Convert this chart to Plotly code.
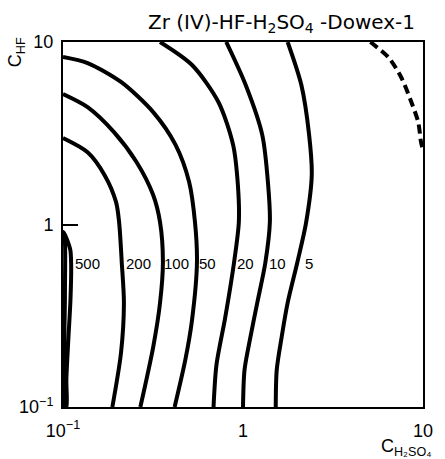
import math
import plotly.graph_objects as go

# Contour curves of distribution coefficient: C_H2SO4 (x) vs C_HF (y)
c500_x = [0.1006, 0.1044, 0.1098, 0.111, 0.110, 0.107, 0.1044, 0.1044, 0.1025, 0.1025, 0.1025, 0.1006]
c500_y = [0.910, 0.843, 0.725, 0.600, 0.386, 0.233, 0.141, 0.1, 0.1, 0.40, 0.80, 0.910]

c200_x = [0.1, 0.137, 0.170, 0.197, 0.205, 0.212, 0.218, 0.210, 0.188]
c200_y = [2.98, 2.49, 1.87, 1.33, 1.03, 0.623, 0.372, 0.198, 0.1]

c100_x = [0.1, 0.137, 0.192, 0.256, 0.317, 0.346, 0.359, 0.346, 0.317, 0.269]
c100_y = [5.19, 4.40, 3.21, 2.20, 1.45, 1.03, 0.623, 0.372, 0.213, 0.1]

c50_x = [0.1, 0.137, 0.210, 0.317, 0.422, 0.502, 0.541, 0.555, 0.521, 0.478, 0.417]
c50_y = [8.28, 7.67, 6.04, 4.13, 2.73, 1.71, 1.03, 0.623, 0.300, 0.181, 0.1]

c20_x = [0.346, 0.521, 0.730, 0.881, 0.937, 0.948, 0.891, 0.796, 0.712, 0.686]
c20_y = [10, 7.48, 4.69, 2.73, 1.64, 1.03, 0.615, 0.308, 0.170, 0.1]

c10_x = [0.807, 1.035, 1.28, 1.38, 1.41, 1.33, 1.20, 1.10, 1.02, 1.0]
c10_y = [10, 5.81, 3.09, 1.64, 1.03, 0.615, 0.372, 0.242, 0.160, 0.1]

c5_x = [1.77, 2.11, 2.33, 2.41, 2.24, 2.00, 1.77, 1.64, 1.54, 1.52]
c5_y = [10, 5.81, 3.09, 1.87, 1.02, 0.615, 0.372, 0.242, 0.160, 0.1]

dash_x = [5.10, 6.47, 7.60, 8.61, 9.40, 9.75, 10.0]
dash_y = [10, 8.17, 6.35, 4.69, 3.65, 2.83, 2.56]

label_text = ["500", "200", "100", "50", "20", "10", "5"]
label_x = [0.1366, 0.263, 0.427, 0.637, 1.035, 1.56, 2.33]
label_y = [0.615] * 7

tick_vals = [0.1, 1, 10]
tick_text = ["10<sup>−1</sup>", "1", "10"]

FONT = "Liberation Sans, Arial, sans-serif"
TITLE_FONT = "DejaVu Sans, sans-serif"

fig = go.Figure()
solid = [(c500_x, c500_y), (c200_x, c200_y), (c100_x, c100_y), (c50_x, c50_y),
         (c20_x, c20_y), (c10_x, c10_y), (c5_x, c5_y)]
for xs, ys in solid:
    fig.add_trace(go.Scatter(x=xs, y=ys, mode="lines",
                             line=dict(color="black", width=4, shape="spline", smoothing=0.8),
                             hoverinfo="skip", showlegend=False))
fig.add_trace(go.Scatter(x=dash_x, y=dash_y, mode="lines",
                         line=dict(color="black", width=4, dash="9px,5px", shape="spline", smoothing=0.8),
                         hoverinfo="skip", showlegend=False))

for t, x, y in zip(label_text, label_x, label_y):
    fig.add_annotation(x=math.log10(x), y=math.log10(y), xref="x", yref="y",
                       text=t, showarrow=False, xanchor="center", yanchor="middle",
                       font=dict(family=FONT, size=15, color="black"))

fig.add_annotation(x=0.607, y=1.052, xref="paper", yref="paper", xanchor="center", yanchor="middle",
                   text="Zr (IV)-HF-H<sub>2</sub>SO<sub>4</sub> -Dowex-1", showarrow=False,
                   font=dict(family=TITLE_FONT, size=20, color="black"))
fig.add_annotation(x=-0.127, y=0.973, xref="paper", yref="paper", xanchor="center", yanchor="middle",
                   text="C<sub>HF</sub>", textangle=-90, showarrow=False,
                   font=dict(family=FONT, size=18, color="black"))
fig.add_annotation(x=0.954, y=-0.11, xref="paper", yref="paper", xanchor="center", yanchor="middle",
                   text="C<sub>H₂SO₄</sub>", showarrow=False,
                   font=dict(family=FONT, size=18, color="black"))

axis_common = dict(type="log", range=[-1, 1], tickvals=tick_vals, ticktext=tick_text,
                   showgrid=False, zeroline=False, showline=True, linecolor="black", linewidth=2,
                   mirror=True, tickfont=dict(family=FONT, size=18, color="black"))
fig.update_xaxes(**axis_common, ticks="", ticklabelstandoff=6)
fig.update_yaxes(**axis_common, ticks="inside", ticklen=15, tickwidth=1.5, tickcolor="black",
                 ticklabelstandoff=4)

fig.update_layout(width=445, height=459, margin=dict(l=63, r=13, t=42, b=52),
                  paper_bgcolor="white", plot_bgcolor="white", showlegend=False)

fig.write_html("out.html")
